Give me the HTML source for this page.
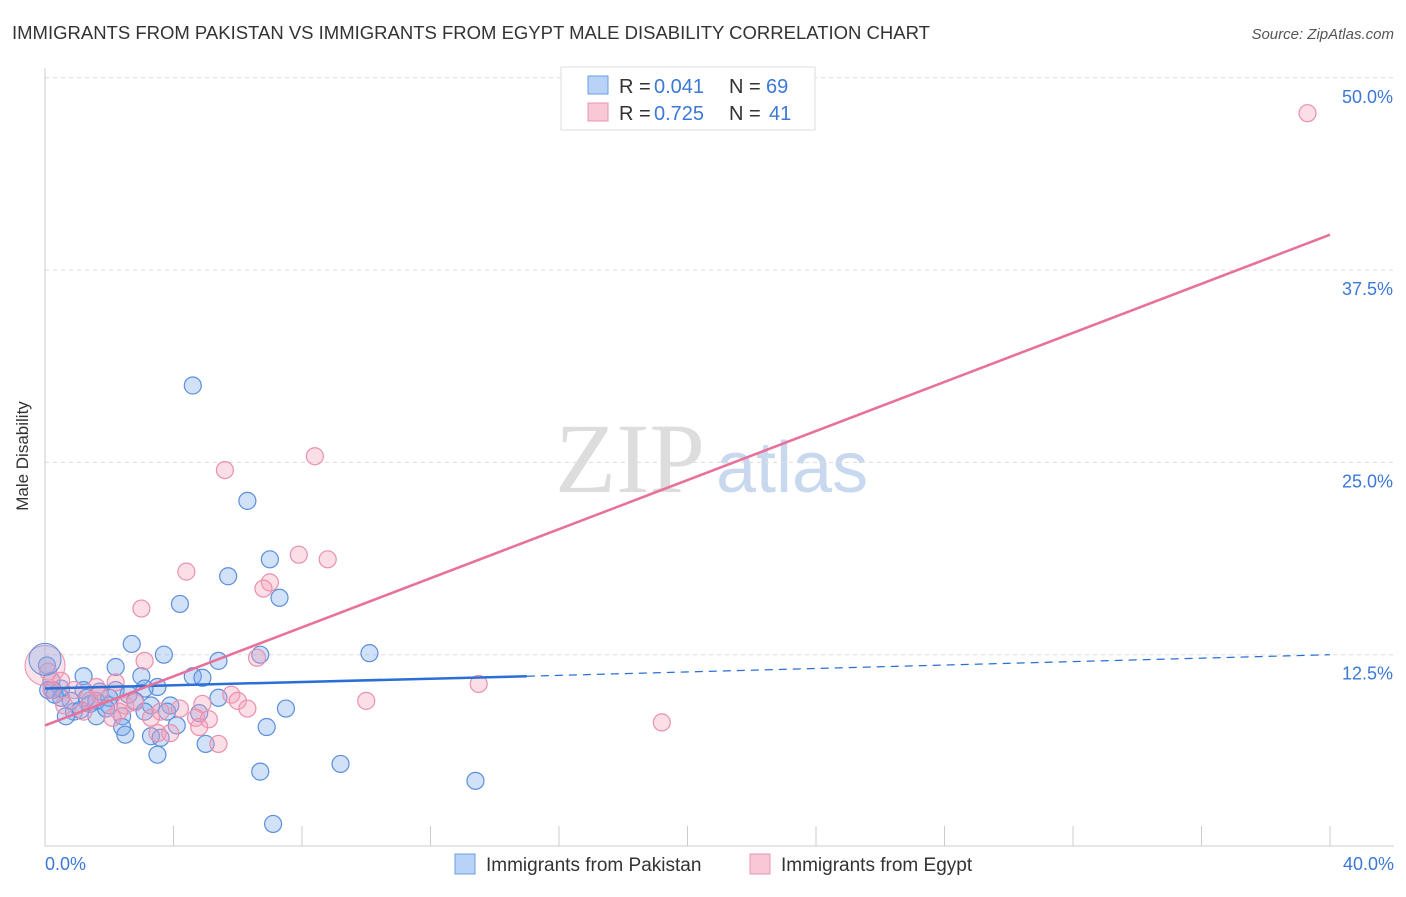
<!DOCTYPE html>
<html><head><meta charset="utf-8"><style>
body{margin:0;background:#fff;font-family:"Liberation Sans",sans-serif}
</style></head><body>
<svg width="1406" height="892" xmlns="http://www.w3.org/2000/svg" font-family="Liberation Sans, sans-serif">
<text x="12" y="39" font-size="18.5" fill="#333">IMMIGRANTS FROM PAKISTAN VS IMMIGRANTS FROM EGYPT MALE DISABILITY CORRELATION CHART</text>
<text x="1394" y="39" font-size="15" fill="#555" font-style="italic" text-anchor="end">Source: ZipAtlas.com</text>
<text x="555" y="492" font-size="100" fill="#ddd" font-family="Liberation Serif, serif">ZIP</text>
<text x="716" y="492" font-size="72" fill="#c8d8ee">atlas</text>
<g id="grid"></g>
<line x1="45" y1="68" x2="45" y2="846" stroke="#ccc"/>
<line x1="45" y1="846" x2="1394" y2="846" stroke="#ccc"/>
<g id="pts"></g>
<g id="lines"></g>
<text x="28" y="456" font-size="17" fill="#333" text-anchor="middle" transform="rotate(-90 28 456)">Male Disability</text>
<text x="45" y="870" font-size="18" fill="#3b78d8">0.0%</text>
<text x="1394" y="870" font-size="18" fill="#3b78d8" text-anchor="end">40.0%</text>
<g>
<rect x="561" y="67" width="254" height="63" fill="#fff" stroke="#ddd"/>
<rect x="588" y="76" width="20" height="18" fill="#b8d3f5" stroke="#6c9ee0"/>
<rect x="588" y="103" width="20" height="18" fill="#f9c8d6" stroke="#e994b0"/>
<text x="619" y="93" font-size="20" fill="#333">R =</text>
<text x="654" y="93" font-size="20" fill="#3b78d8">0.041</text>
<text x="729" y="93" font-size="20" fill="#333">N =</text>
<text x="766" y="93" font-size="20" fill="#3b78d8">69</text>
<text x="619" y="120" font-size="20" fill="#333">R =</text>
<text x="654" y="120" font-size="20" fill="#3b78d8">0.725</text>
<text x="729" y="120" font-size="20" fill="#333">N =</text>
<text x="769" y="120" font-size="20" fill="#3b78d8">41</text>
</g>
<g>
<rect x="455" y="854" width="20" height="20" fill="#b8d3f5" stroke="#6c9ee0"/>
<text x="486" y="871" font-size="19" fill="#333">Immigrants from Pakistan</text>
<rect x="750" y="854" width="20" height="20" fill="#f9c8d6" stroke="#e994b0"/>
<text x="781" y="871" font-size="19" fill="#333">Immigrants from Egypt</text>
</g>
</svg>
<script>
const yTicks=[12.5,25,37.5,50];
const xTicks=[4,8,12,16,20,24,28,32,36,40];
const blueX=[4.6,6.3,5.7,7.0,7.3,4.2,2.7,3.7,5.4,6.7,10.1,2.2,1.2,3.0,4.6,4.9,3.5,1.7,2.2,3.1,1.2,0.5,0.2,0.25,0.8,1.4,2.0,2.6,3.3,3.9,4.8,5.4,7.5,0.9,1.6,2.4,3.8,2.4,4.1,6.9,2.5,3.3,3.6,5.0,3.5,6.7,9.2,13.4,7.1,0.06,0.1,0.5,1.1,1.6,2.0,2.8,0.3,1.3,0.65,1.9,3.1];
const blueY=[30.0,22.5,17.6,18.7,16.2,15.8,13.2,12.5,12.1,12.5,12.6,11.7,11.1,11.1,11.1,11.0,10.4,10.1,10.2,10.3,10.2,10.3,10.8,10.2,9.5,9.3,9.2,9.9,9.2,9.2,8.7,9.7,9.0,8.8,8.5,8.5,8.8,7.8,7.9,7.8,7.3,7.2,7.1,6.7,6.0,4.9,5.4,4.3,1.5,11.8,10.2,9.7,8.9,9.5,9.7,9.5,9.9,9.7,8.5,9.0,8.8];
const pinkX=[39.3,8.4,5.6,7.9,8.8,7.0,6.8,4.4,3.0,6.6,3.1,13.5,10.0,19.2,5.8,6.0,6.3,4.9,4.2,3.3,4.7,5.1,3.5,3.9,5.4,2.2,1.7,0.5,0.1,0.9,1.4,2.5,2.3,2.1,0.6,2.8,3.6,0.2,1.2,4.8,1.6];
const pinkY=[47.7,25.4,24.5,19.0,18.7,17.2,16.8,17.9,15.5,12.3,12.1,10.6,9.5,8.1,9.9,9.5,9.0,9.3,9.0,8.4,8.4,8.3,7.4,7.4,6.7,10.7,9.9,10.8,11.4,10.2,9.5,9.2,8.8,8.4,9.2,9.4,8.8,10.2,8.8,7.8,10.4];
const blueLine=[10.3,11.1,12.5];
const pinkLine=[7.9,39.8];
const NS="http://www.w3.org/2000/svg";
const X=v=>45+v/40*1285, Y=v=>847-v/12.5*192.3;
function mk(t,a,p){const e=document.createElementNS(NS,t);for(const k in a)e.setAttribute(k,a[k]);p.appendChild(e);return e;}
const grid=document.getElementById('grid');
const svg=document.querySelector('svg');
yTicks.forEach(t=>{
 const l=mk('line',{x1:45,x2:1394,y1:Y(t),y2:Y(t),stroke:'#ddd','stroke-dasharray':'4,4'},grid);
 
 
 const tx=mk('text',{x:1393,y:Y(t)+25,'font-size':18,fill:'#3b78d8','text-anchor':'end'},svg);
 tx.textContent=(t.toFixed(1))+'%';
 
 
});
xTicks.forEach(t=>{
 const l=mk('line',{x1:X(t),x2:X(t),y1:826,y2:846,stroke:'#ccc'},grid);
 
 
});
const pts=document.getElementById('pts');
blueX.forEach((v,i)=>{
 const c=mk('circle',{cx:X(v),cy:Y(blueY[i]),r:8.5,fill:'rgba(120,170,235,0.35)',stroke:'#5b8fdc','stroke-width':1.2},pts);
 
 
});
pinkX.forEach((v,i)=>{
 const c=mk('circle',{cx:X(v),cy:Y(pinkY[i]),r:8.5,fill:'rgba(245,160,185,0.35)',stroke:'#e990ae','stroke-width':1.2},pts);
 
 
});
const big1=mk('circle',{cx:X(0),cy:Y(11.8),r:20,fill:'rgba(245,160,185,0.3)',stroke:'#e990ae'},pts);


const big2=mk('circle',{cx:X(0),cy:Y(12.2),r:16,fill:'rgba(120,170,235,0.3)',stroke:'#5b8fdc'},pts);


const lines=document.getElementById('lines');
const b1=mk('line',{x1:X(0),y1:Y(blueLine[0]),x2:X(15),y2:Y(blueLine[1]),stroke:'#2a6fd6','stroke-width':2.5},lines);


const b2=mk('line',{x1:X(15),y1:Y(blueLine[1]),x2:X(40),y2:Y(blueLine[2]),stroke:'#2a6fd6','stroke-width':1.2,'stroke-dasharray':'8,6'},lines);


const p1=mk('line',{x1:X(0),y1:Y(pinkLine[0]),x2:X(40),y2:Y(pinkLine[1]),stroke:'#e8709a','stroke-width':2.5},lines);


</script>
</body></html>
